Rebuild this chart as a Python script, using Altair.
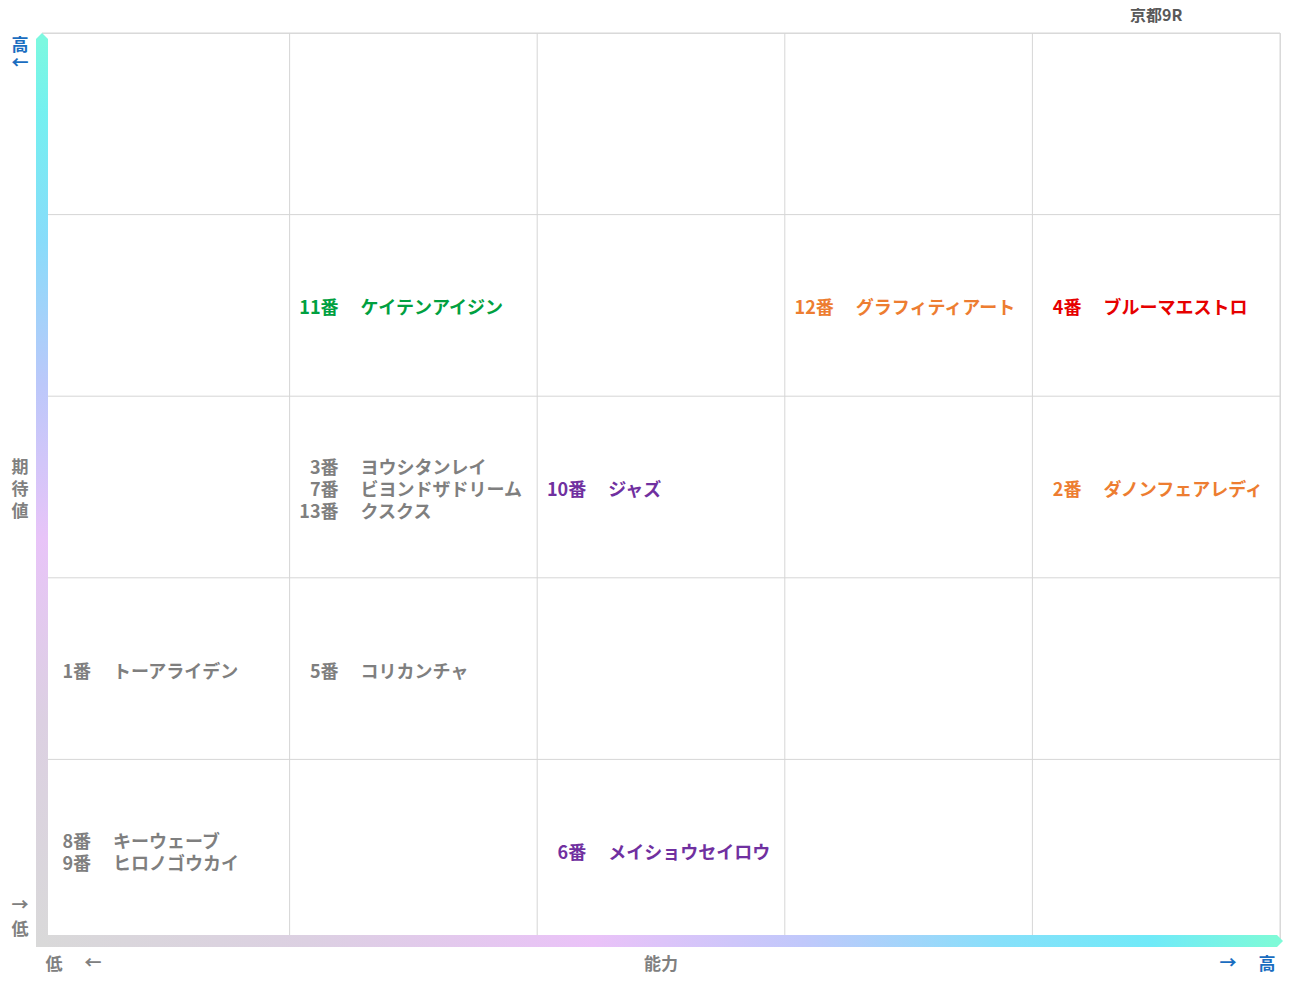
import altair as alt
import pandas as pd

FONT = "Noto Sans CJK JP"

# ---- data ----
numbers = ["1番", "8番", "9番", "11番", "3番", "7番", "13番", "5番", "10番", "6番", "12番", "4番", "2番"]
names = ["トーアライデン", "キーウェーブ", "ヒロノゴウカイ", "ケイテンアイジン", "ヨウシタンレイ",
         "ビヨンドザドリーム", "クスクス", "コリカンチャ", "ジャズ", "メイショウセイロウ",
         "グラフィティアート", "ブルーマエストロ", "ダノンフェアレディ"]
ability = [0, 0, 0, 1, 1, 1, 1, 1, 2, 2, 3, 4, 4]      # column (能力)
expect = [1, 0, 0, 3, 2, 2, 2, 1, 2, 0, 3, 3, 2]       # row from bottom (期待値)
colors = ["#7f7f7f", "#7f7f7f", "#7f7f7f", "#00a040", "#7f7f7f", "#7f7f7f", "#7f7f7f",
          "#7f7f7f", "#7030a0", "#7030a0", "#ed7d31", "#e60000", "#ed7d31"]
grid_vals = [1, 2, 3, 4, 5]
title_text = "京都9R"

W, H = 1238, 908
NCELL = 5
LINE_PX = 22

df = pd.DataFrame({"num": numbers, "name": names, "col": ability, "row": expect, "color": colors})
df["line"] = df.groupby(["col", "row"]).cumcount()
df["n"] = df.groupby(["col", "row"])["num"].transform("count")
unit_y = H / NCELL
df["y"] = df["row"] + 0.5 + ((df["n"] - 1) / 2 - df["line"]) * LINE_PX / unit_y

XS = alt.Scale(domain=[0, 5], nice=False, zero=False)
YS = alt.Scale(domain=[0, 5], nice=False, zero=False)

def xd(v):
    return alt.XDatum(v, scale=XS, axis=None)

def yd(v):
    return alt.YDatum(v, scale=YS, axis=None)

gdf = pd.DataFrame({"v": grid_vals})
vgrid = alt.Chart(gdf).mark_rule(color="#d6d6d6", strokeWidth=1).encode(
    x=alt.X("v:Q", scale=XS, axis=None), y=yd(0), y2=alt.Y2Datum(5))
hgrid = alt.Chart(gdf).mark_rule(color="#d6d6d6", strokeWidth=1).encode(
    y=alt.Y("v:Q", scale=YS, axis=None), x=xd(0), x2=alt.X2Datum(5))

one = pd.DataFrame({"a": [0]})

vgrad = alt.Gradient(
    gradient="linear", x1=0, x2=0, y1=1, y2=0,
    stops=[
        alt.GradientStop(offset=0.0, color="#d9d9d9"),
        alt.GradientStop(offset=0.25, color="#dcd0e2"),
        alt.GradientStop(offset=0.45, color="#e8c4f8"),
        alt.GradientStop(offset=0.62, color="#bcc8fa"),
        alt.GradientStop(offset=0.78, color="#88dcfa"),
        alt.GradientStop(offset=0.92, color="#74f0f0"),
        alt.GradientStop(offset=1.0, color="#7cf8e0"),
    ])
hgrad = alt.Gradient(
    gradient="linear", x1=0, x2=1, y1=0, y2=0,
    stops=[
        alt.GradientStop(offset=0.0, color="#d9d9d9"),
        alt.GradientStop(offset=0.22, color="#dcd0e2"),
        alt.GradientStop(offset=0.45, color="#eac2f8"),
        alt.GradientStop(offset=0.62, color="#c0c8fb"),
        alt.GradientStop(offset=0.78, color="#86e0fa"),
        alt.GradientStop(offset=0.9, color="#70eaf8"),
        alt.GradientStop(offset=1.0, color="#7efad8"),
    ])

vbar = alt.Chart(one).mark_rect(fill=vgrad, xOffset=-6, x2Offset=6, yOffset=8, y2Offset=6).encode(
    x=xd(0), x2=alt.X2Datum(0), y=yd(5), y2=alt.Y2Datum(0))
hbar = alt.Chart(one).mark_rect(fill=hgrad, yOffset=-6, y2Offset=6, xOffset=-6, x2Offset=-5).encode(
    x=xd(0), x2=alt.X2Datum(5), y=yd(0), y2=alt.Y2Datum(0))
vtip = alt.Chart(one).mark_point(shape="M-1,1L-1,0L0,-1L1,0L1,1Z", size=144, filled=True,
                                 color="#7cf8e0", opacity=1, strokeWidth=0, yOffset=6).encode(
    x=xd(0), y=yd(5))
htip = alt.Chart(one).mark_point(shape="M-1,-1L0,-1L1,0L0,1L-1,1Z", size=144, filled=True,
                                 color="#7efad8", opacity=1, strokeWidth=0, xOffset=-3).encode(
    x=xd(5), y=yd(0))

num_text = alt.Chart(df).mark_text(font=FONT, fontSize=18, fontWeight="bold", align="right",
                                   baseline="middle", dx=49, dy=4).encode(
    x=alt.X("col:Q", scale=XS, axis=None), y=alt.Y("y:Q", scale=YS, axis=None),
    text="num:N", color=alt.Color("color:N", scale=None))
name_text = alt.Chart(df).mark_text(font=FONT, fontSize=18, fontWeight="bold", align="left",
                                    baseline="middle", dx=71, dy=4).encode(
    x=alt.X("col:Q", scale=XS, axis=None), y=alt.Y("y:Q", scale=YS, axis=None),
    text="name:N", color=alt.Color("color:N", scale=None))

def ann(text, x, y, dx, dy, color, size=17):
    return alt.Chart(pd.DataFrame({"t": [text]})).mark_text(
        font=FONT, fontSize=size, fontWeight="bold", align="center", baseline="middle",
        dx=dx, dy=dy, color=color).encode(x=xd(x), y=yd(y), text="t:N")

GRAY = "#808080"
BLUE = "#1a6dc0"
anns = [
    ann(title_text, 4.5, 5, 0, -17, "#595959", size=16),
    ann("能力", 2.5, 0, 0, 24, GRAY),
    ann("低", 0, 0, 12, 24, GRAY),
    ann("←", 0, 0, 51, 23, GRAY),
    ann("→", 5, 0, -52, 23, BLUE),
    ann("高", 5, 0, -13, 24, BLUE),
    ann("高", 0, 5, -22, 13, BLUE),
    ann("←", 0, 5, -22, 31, BLUE),
    ann("→", 0, 0, -22, -35, GRAY),
    ann("低", 0, 0, -22, -11, GRAY),
    ann("期", 0, 2.5, -22, -19, GRAY),
    ann("待", 0, 2.5, -22, 3, GRAY),
    ann("値", 0, 2.5, -22, 25, GRAY),
]

chart = alt.layer(vgrid, hgrid, hbar, vbar, vtip, htip, num_text, name_text, *anns).properties(
    width=W, height=H,
    autosize="none",
    padding={"left": 34, "top": 25, "right": 3, "bottom": 34},
).configure_view(stroke=None).configure(background="white")

chart.save("out.html", embed_options={"renderer": "svg", "actions": False})
